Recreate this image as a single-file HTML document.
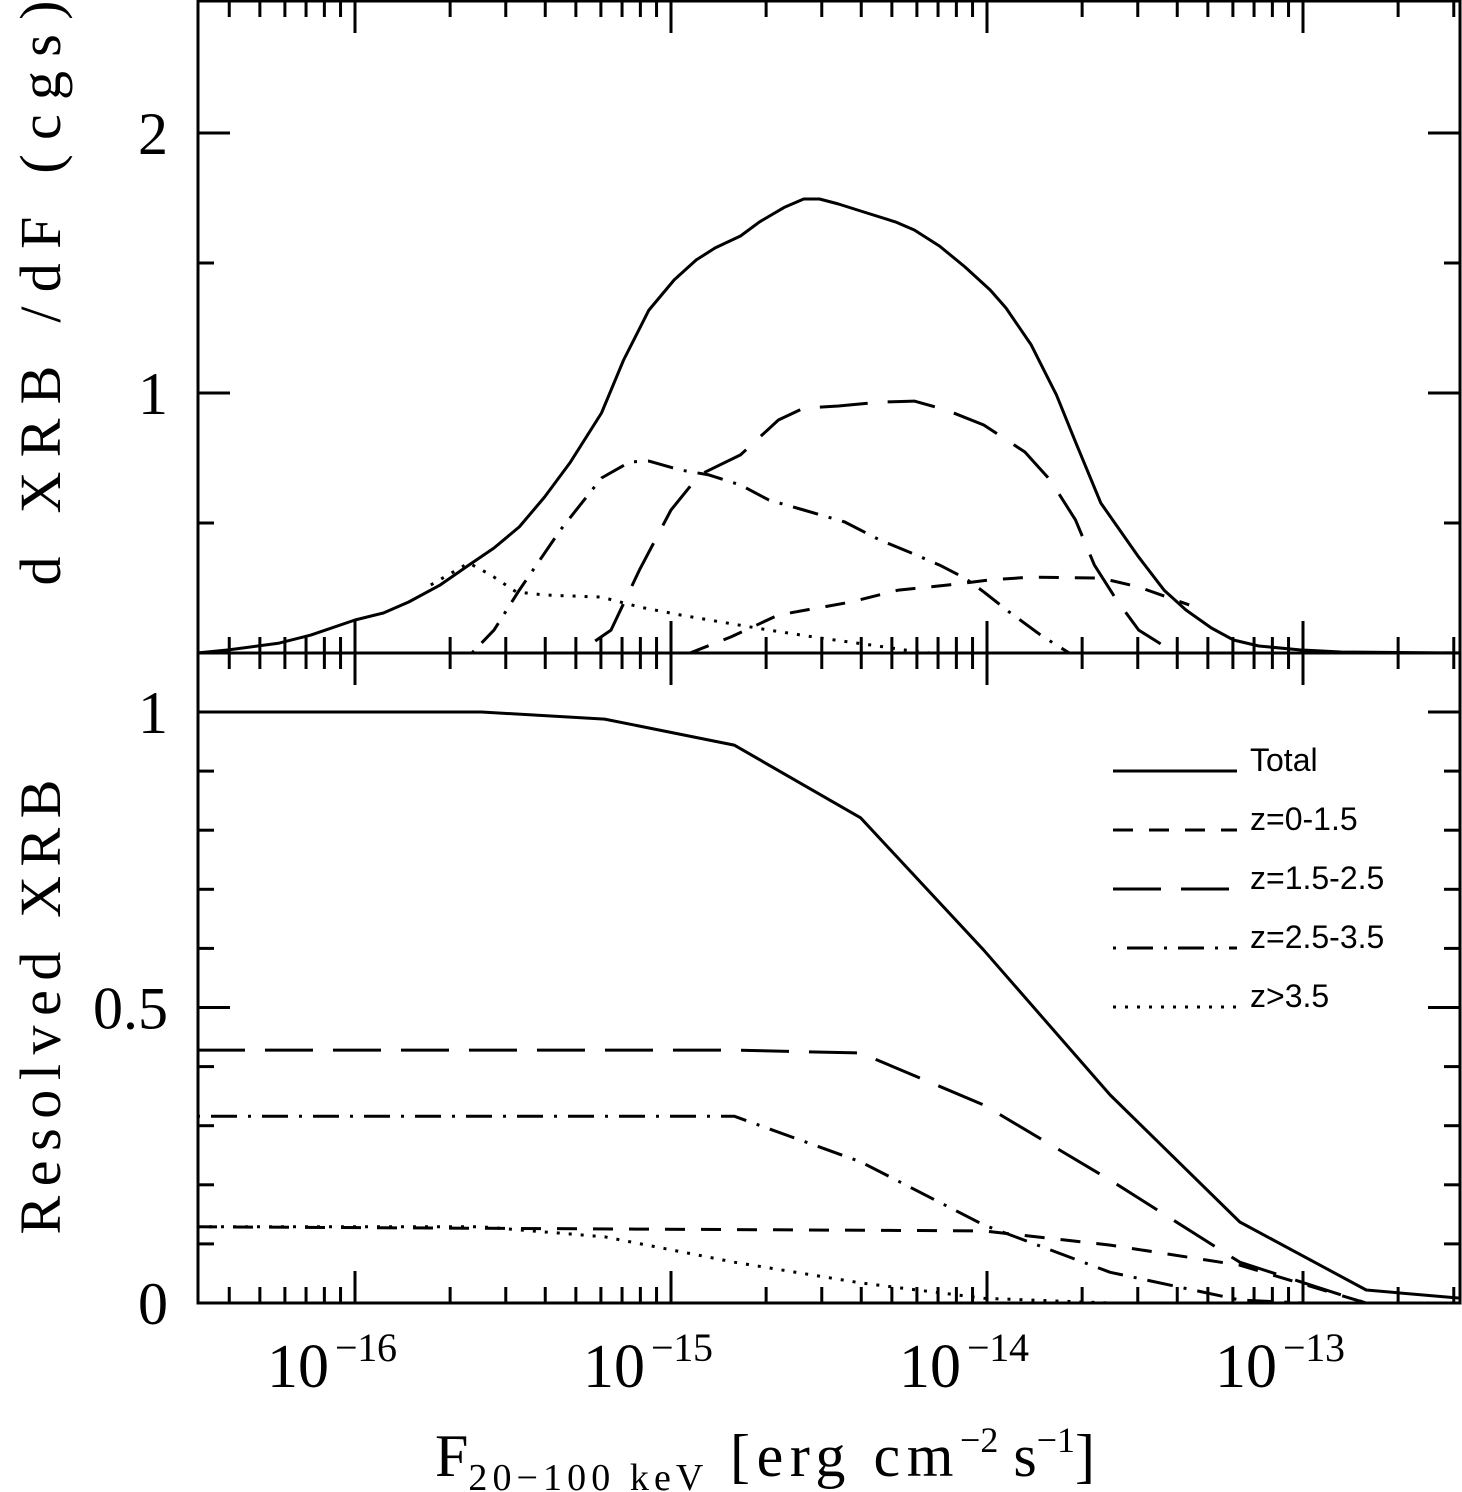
<!DOCTYPE html>
<html><head><meta charset="utf-8"><style>
html,body{margin:0;padding:0;background:#fff}
svg{display:block}
text{font-family:"Liberation Serif",serif;fill:#000}
.lg{font-family:"Liberation Sans",sans-serif}
</style></head><body>
<svg id="chart" width="1462" height="1492" viewBox="0 0 1462 1492" xmlns="http://www.w3.org/2000/svg">
<g id="frame"></g>
<g id="ticks"></g>
<g id="series"></g>
<g id="labels"></g>
<text transform="translate(60,293) rotate(-90)" text-anchor="middle" font-size="58" textLength="585" lengthAdjust="spacing">d XRB /dF (cgs)</text>
<text transform="translate(60,1007) rotate(-90)" text-anchor="middle" font-size="58" textLength="455" lengthAdjust="spacing">Resolved XRB</text>
<text x="435" y="1476" font-size="60">F<tspan font-size="38" dy="14" textLength="235" lengthAdjust="spacing">20−100 keV</tspan><tspan dy="-14" textLength="245" lengthAdjust="spacing"> [erg cm</tspan><tspan font-size="36" dy="-24">−2</tspan><tspan dy="24"> s</tspan><tspan font-size="36" dy="-24">−1</tspan><tspan dy="24">]</tspan></text>
<g id="legend"></g>
</svg>
<script>
// ---- data ----
const xTickLogs = [-16, -15, -14, -13];
const xTickLabels = ["−16", "−15", "−14", "−13"];
const topYTicks = [1, 2];
const botYTicks = [0, 0.5, 1];
const botYLabels = ["0", "0.5", "1"];

const topTotalX = [-16.5,-16.4,-16.24,-16.14,-16.0,-15.91,-15.83,-15.73,-15.64,-15.56,-15.48,-15.40,-15.32,-15.22,-15.15,-15.07,-14.99,-14.92,-14.86,-14.78,-14.72,-14.64,-14.58,-14.53,-14.47,-14.39,-14.29,-14.23,-14.15,-14.07,-13.99,-13.94,-13.86,-13.78,-13.72,-13.64,-13.58,-13.52,-13.44,-13.37,-13.29,-13.22,-13.14,-13.01,-12.88,-12.5];
const topTotalY = [0,0.012,0.038,0.069,0.127,0.154,0.196,0.262,0.338,0.404,0.485,0.600,0.731,0.923,1.127,1.319,1.435,1.512,1.558,1.604,1.658,1.715,1.746,1.746,1.727,1.696,1.658,1.627,1.565,1.485,1.396,1.327,1.185,0.992,0.812,0.577,0.473,0.369,0.242,0.165,0.096,0.050,0.027,0.012,0.004,0];
const topZ2X = [-15.24,-15.19,-15.10,-15.00,-14.91,-14.78,-14.66,-14.58,-14.47,-14.34,-14.23,-14.13,-14.01,-13.88,-13.80,-13.72,-13.66,-13.59,-13.52,-13.42,-13.39];
const topZ2Y = [0.046,0.088,0.319,0.550,0.685,0.762,0.896,0.942,0.950,0.965,0.969,0.935,0.877,0.773,0.665,0.512,0.338,0.204,0.088,0.012,0];
const topZ3X = [-15.63,-15.56,-15.48,-15.35,-15.22,-15.13,-15.07,-14.97,-14.88,-14.78,-14.69,-14.58,-14.45,-14.34,-14.24,-14.15,-14.07,-14.01,-13.93,-13.83,-13.74];
const topZ3Y = [0,0.088,0.242,0.473,0.673,0.735,0.738,0.704,0.685,0.646,0.588,0.550,0.504,0.435,0.385,0.338,0.288,0.235,0.158,0.069,0];
const topZ4X = [-15.76,-15.64,-15.57,-15.49,-15.40,-15.22,-15.10,-14.97,-14.84,-14.69,-14.53,-14.37,-14.24,-14.18];
const topZ4Y = [0.262,0.346,0.300,0.235,0.223,0.215,0.177,0.146,0.119,0.088,0.058,0.031,0.008,0];
const topZ1X = [-14.94,-14.81,-14.66,-14.43,-14.28,-14.12,-13.99,-13.86,-13.64,-13.52,-13.36];
const topZ1Y = [0,0.062,0.146,0.196,0.242,0.262,0.281,0.292,0.288,0.254,0.185];

const botTotalX = [-16.5,-15.60,-15.21,-14.80,-14.40,-14.01,-13.61,-13.20,-12.80,-12.5];
const botTotalY = [1.0,1.0,0.988,0.944,0.821,0.597,0.352,0.137,0.022,0.008];
const botZ2X = [-16.5,-14.80,-14.40,-14.01,-13.61,-13.20,-12.80];
const botZ2Y = [0.428,0.428,0.423,0.335,0.208,0.069,0];
const botZ3X = [-16.5,-14.80,-14.40,-14.01,-13.61,-13.20,-13.0];
const botZ3Y = [0.316,0.316,0.239,0.132,0.052,0.005,0];
const botZ4X = [-16.5,-15.60,-15.21,-14.80,-14.40,-14.01,-13.61];
const botZ4Y = [0.129,0.129,0.112,0.069,0.034,0.008,0];
const botZ1X = [-16.5,-14.01,-13.61,-13.20,-12.80];
const botZ1Y = [0.129,0.122,0.098,0.064,0];

const legendLabels = ["Total","z=0-1.5","z=1.5-2.5","z=2.5-3.5","z>3.5"];
</script>
<script>
const NS="http://www.w3.org/2000/svg";
const L=198,R=1460,T=1,M=653,B=1303;
const xs=v=>355+(v+16)*316;
const yt=v=>653-v*260;
const yb=v=>1303-v*591;
const dashes={total:"",z1:"20 16",z2:"48 20",z3:"3 11 26 11",z4:"3 9"};
function mk(tag,attrs,parent){const e=document.createElementNS(NS,tag);for(const k in attrs)e.setAttribute(k,attrs[k]);parent.appendChild(e);return e;}
const frame=document.getElementById('frame');
let r=mk('rect',{x:L,y:T,width:R-L,height:B-T,fill:'none',stroke:'#000','stroke-width':3},frame);


let mid=mk('line',{x1:L,x2:R,y1:M,y2:M,stroke:'#000','stroke-width':3},frame);


const tk=document.getElementById('ticks');
function tline(x1,y1,x2,y2){const l=mk('line',{x1,y1,x2,y2,stroke:'#000','stroke-width':3},tk);

}
for(let d=-17;d<=-13;d++){for(let m=1;m<=9;m++){const v=d+Math.log10(m);const x=xs(v);if(x<L+2||x>R-2)continue;const len=m===1?32:16;
[T,M,B].forEach(yy=>{ if(yy!==B) tline(x,yy,x,yy+len); if(yy!==T) tline(x,yy,x,yy-len);});}}
for(let v=0.5;v<2.5;v+=0.5){const y=yt(v);const len=(v%1===0)?32:16;tline(L,y,L+len,y);tline(R,y,R-len,y);}
for(let v=0.1;v<1.1;v+=0.1){const y=yb(v);const len=(Math.abs(v-0.5)<1e-6||Math.abs(v-1)<1e-6)?32:16;tline(L,y,L+len,y);tline(R,y,R-len,y);}
const lab=document.getElementById('labels');
xTickLogs.forEach((v,i)=>{const t=mk('text',{x:xs(v)-88,y:1387,'font-size':62},lab);


t.textContent='10';const s=mk('tspan',{'font-size':40,dy:-26,dx:6,textLength:62,lengthAdjust:'spacing'},t);s.textContent=xTickLabels[i];});
topYTicks.forEach(v=>{const t=mk('text',{x:168,y:yt(v)+21,'text-anchor':'end','font-size':60},lab);


t.textContent=String(v);});
botYTicks.forEach((v,i)=>{const t=mk('text',{x:168,y:yb(v)+21,'text-anchor':'end','font-size':60},lab);


t.textContent=botYLabels[i];});
const sg=document.getElementById('series');
function line(X,Y,yf,dash,name){const d=X.map((v,i)=>(i?'L':'M')+xs(v).toFixed(1)+','+yf(Y[i]).toFixed(1)).join('');
const p=mk('path',{d,fill:'none',stroke:'#000','stroke-width':3,'stroke-dasharray':dash||'none','stroke-linejoin':'round'},sg);

}
line(topTotalX,topTotalY,yt,dashes.total,'top-total-line');
line(topZ1X,topZ1Y,yt,dashes.z1,'top-z0-1.5-line');
line(topZ2X,topZ2Y,yt,dashes.z2,'top-z1.5-2.5-line');
line(topZ3X,topZ3Y,yt,dashes.z3,'top-z2.5-3.5-line');
line(topZ4X,topZ4Y,yt,dashes.z4,'top-z3.5-line');
line(botTotalX,botTotalY,yb,dashes.total,'bottom-total-line');
line(botZ1X,botZ1Y,yb,dashes.z1,'bottom-z0-1.5-line');
line(botZ2X,botZ2Y,yb,dashes.z2,'bottom-z1.5-2.5-line');
line(botZ3X,botZ3Y,yb,dashes.z3,'bottom-z2.5-3.5-line');
line(botZ4X,botZ4Y,yb,dashes.z4,'bottom-z3.5-line');
const lg=document.getElementById('legend');
const ld=[dashes.total,dashes.z1,dashes.z2,dashes.z3,dashes.z4];
legendLabels.forEach((s,i)=>{const y=771+i*59;
const g=mk('g',{},lg);


mk('line',{x1:1113,x2:1237,y1:y,y2:y,stroke:'#000','stroke-width':3,'stroke-dasharray':ld[i]||'none'},g);
const t=mk('text',{x:1250,y:y,'font-size':32,class:'lg'},g);t.textContent=s;});
</script>
</body></html>
